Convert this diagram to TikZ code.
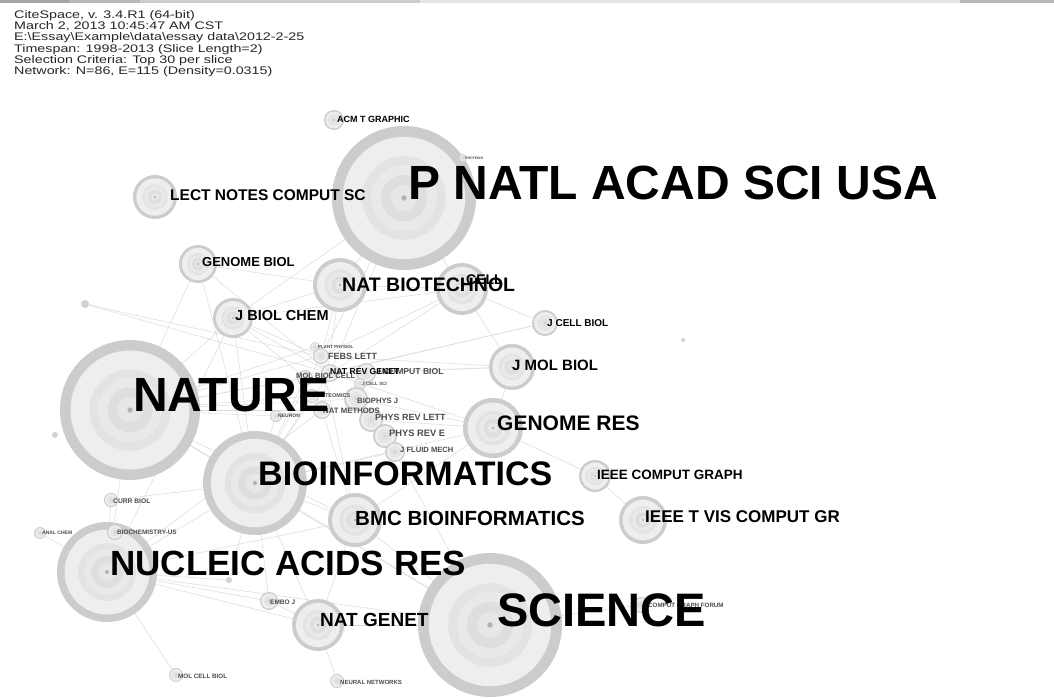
\documentclass[tikz,border=0pt]{standalone}
\usepackage{fontspec}
\setmainfont{Liberation Sans}
\pgfdeclarelayer{bg}
\pgfsetlayers{bg,main}

\begin{document}
\begin{tikzpicture}[
    x=1pt, y=-1pt,
    jrnl/.style={
        circle, inner sep=0pt,
        minimum size={2*#1pt},
        fill=gray!40,
        path picture={
            \fill[gray!13] (path picture bounding box.center) circle[radius={0.85*#1pt}];
            \fill[gray!22] (path picture bounding box.center) circle[radius={0.58*#1pt}];
            \fill[gray!17] (path picture bounding box.center) circle[radius={0.46*#1pt}];
            \fill[gray!26] (path picture bounding box.center) circle[radius={0.32*#1pt}];
            \fill[gray!19] (path picture bounding box.center) circle[radius={0.18*#1pt}];
            \fill[gray!60] (path picture bounding box.center) circle[radius={0.03*#1pt+0.5pt}];
        }
    },
    dot/.style={circle, inner sep=0pt, minimum size={2*#1pt}, fill=gray!35},
    lbl/.style={anchor=west, inner sep=0pt, font=\bfseries\fontsize{#1}{#1}\selectfont},
    tiny/.style={lbl=#1, text=black!70},
    link/.style={draw=gray!28, line width=0.5pt},
    head/.style={anchor=north west, inner sep=0pt, font=\fontsize{11}{10.5}\selectfont, text=black!85}
]

\useasboundingbox (0,0) rectangle (1054,697);

% big journals
\node[jrnl=72] (pnas) at (404,198) {};
\node[jrnl=70] (nat)  at (130,410) {};
\node[jrnl=72] (sci)  at (490,625) {};
\node[jrnl=52] (bio)  at (255,483) {};
\node[jrnl=50] (nar)  at (107,572) {};

% medium journals
\node[jrnl=22] (lncs)  at (155,197) {};
\node[jrnl=19] (gbiol) at (198,264) {};
\node[jrnl=27] (nbt)   at (340,285) {};
\node[jrnl=26] (cell)  at (462,289) {};
\node[jrnl=20] (jbc)   at (233,318) {};
\node[jrnl=13] (jcb)   at (545,323) {};
\node[jrnl=23] (jmb)   at (512,367) {};
\node[jrnl=30] (gres)  at (493,428) {};
\node[jrnl=16] (icg)   at (595,476) {};
\node[jrnl=24] (tvcg)  at (643,520) {};
\node[jrnl=27] (bmc)   at (355,520) {};
\node[jrnl=26] (ngen)  at (318,625) {};
\node[jrnl=10] (acm)   at (334,120) {};

% central cluster
\node[jrnl=5]  (plant) at (315,347) {};
\node[jrnl=8]  (febs)  at (321,356) {};
\node[jrnl=9]  (nrg)   at (330,373) {};
\node[jrnl=10] (jcomp) at (366,373) {};
\node[jrnl=8]  (mbc)   at (305,378) {};
\node[jrnl=6]  (jcs)   at (360,384) {};
\node[jrnl=7]  (prot)  at (312,396) {};
\node[jrnl=12] (bpj)   at (356,399) {};
\node[jrnl=9]  (nmeth) at (322,410) {};
\node[jrnl=6]  (neur)  at (276,416) {};
\node[jrnl=12] (prl)   at (371,420) {};
\node[jrnl=12] (pre)   at (385,436) {};
\node[jrnl=10] (jfm)   at (395,452) {};

% outer small ones
\node[jrnl=7] (cbiol) at (111,500) {};
\node[jrnl=6] (achem) at (40,533) {};
\node[jrnl=8] (bchem) at (115,532) {};
\node[jrnl=9] (embo)  at (269,601) {};
\node[jrnl=7] (mcb)   at (176,675) {};
\node[jrnl=7] (nnet)  at (337,681) {};
\node[jrnl=8] (cgf)   at (641,605) {};
\node[jrnl=4] (prots) at (463,158) {};

\node[dot=4]   (d1) at (85,304) {};
\node[dot=3]   (d2) at (55,435) {};
\node[dot=2]   (d3) at (683,340) {};
\node[dot=3]   (d4) at (229,580) {};

% links behind everything
\begin{pgfonlayer}{bg}
\fill[white] (0,0) rectangle (1054,697);
\fill[gray!70] (0,0) rectangle (70,3);
\fill[gray!55] (70,0) rectangle (140,3);
\fill[gray!40] (140,0) rectangle (420,3);
\fill[gray!22] (420,0) rectangle (960,3);
\fill[gray!55] (960,0) rectangle (1054,3);
\foreach \a/\b in {nat/bio, nat/nar, nat/jbc, nat/nmeth, nat/febs, nat/bmc, nat/sci,
        nat/gbiol, nat/nrg, nat/bpj, nat/prot, nat/neur, nat/mbc, nat/plant,
        bio/bmc, bio/nar, bio/ngen, bio/gres, bio/sci, bio/nrg, bio/febs, bio/mbc,
        bio/jbc, bio/embo, bio/jfm, bio/prot, bio/neur, bio/gbiol, bio/cbiol,
        nar/sci, nar/embo, nar/ngen, nar/bchem, nar/cbiol, nar/bmc, nar/jbc,
        nar/mcb, nar/achem, nar/d4, d4/bio, nar/nmeth,
        bmc/sci, bmc/ngen, bmc/gres, bmc/nmeth, bmc/febs,
        gres/jmb, gres/nrg, gres/prl, gres/bpj, gres/icg,
        jmb/cell, jmb/nrg, jmb/jcomp, jmb/febs,
        jcb/nrg, jcb/mbc, jcb/cell,
        cell/nbt, cell/febs, cell/jbc, cell/nrg,
        nbt/febs, nbt/nmeth, nbt/pnas, nbt/gbiol, nbt/jbc,
        pnas/febs, pnas/jbc, pnas/nrg, pnas/cell,
        jbc/febs, jbc/mbc, jbc/nrg, gbiol/nrg, d1/nrg, d1/febs,
        prl/pre, pre/jfm, jfm/sci, icg/tvcg,
        ngen/sci, ngen/embo, cgf/sci, nnet/ngen}
    \draw[link] (\a.center) -- (\b.center);
\end{pgfonlayer}

% header
\node[head] (info) at (14,10.5) {\scalebox{1.3}[1]{\begin{tabular}{@{}l@{}}
CiteSpace, v. 3.4.R1 (64-bit)\\
March 2, 2013 10:45:47 AM CST\\
E:\textbackslash Essay\textbackslash Example\textbackslash data\textbackslash essay data\textbackslash 2012-2-25\\
Timespan: 1998-2013 (Slice Length=2)\\
Selection Criteria: Top 30 per slice\\
Network: N=86, E=115 (Density=0.0315)
\end{tabular}}};

% small labels
\node[tiny=4.4] (plantT) at (318,347) {PLANT PHYSIOL};
\node[tiny=9]   (febsT)  at (328,356) {FEBS LETT};
\node[tiny=7.6] (mbcT)   at (296,376) {MOL BIOL CELL};
\node[tiny=8.6] (jcompT) at (376,372) {J COMPUT BIOL};
\node[lbl=8.6]  (nrgT)   at (330,372) {NAT REV GENET};
\node[tiny=4.6] (jcsT)   at (362,384) {J CELL SCI};
\node[tiny=5.5] (protT)  at (313,396) {PROTEOMICS};
\node[tiny=7.7] (bpjT)   at (357,401) {BIOPHYS J};
\node[tiny=7.8] (nmethT) at (323,411) {NAT METHODS};
\node[tiny=5]   (neurT)  at (278,416) {NEURON};
\node[tiny=9]   (prlT)   at (375,417) {PHYS REV LETT};
\node[tiny=9.3] (preT)   at (389,433) {PHYS REV E};
\node[tiny=7.6] (jfmT)   at (400,450) {J FLUID MECH};
\node[tiny=6.7] (cbiolT) at (113,501) {CURR BIOL};
\node[tiny=5]   (achemT) at (42,533)  {ANAL CHEM};
\node[tiny=6.4] (bchemT) at (117,532) {BIOCHEMISTRY-US};
\node[tiny=6.5] (emboT)  at (270,602) {EMBO J};
\node[tiny=6.3] (mcbT)   at (178,676) {MOL CELL BIOL};
\node[tiny=6]   (nnetT)  at (340,682) {NEURAL NETWORKS};
\node[tiny=6.2] (cgfT)   at (648,605) {COMPUT GRAPH FORUM};
\node[tiny=3.5] (protsT) at (465,158) {PROTEINS};

% medium labels
\node[lbl=9]    (acmT)   at (337,119) {ACM T GRAPHIC};
\node[lbl=15.5] (lncsT)  at (170,195) {LECT NOTES COMPUT SC};
\node[lbl=13]   (gbiolT) at (202,262) {GENOME BIOL};
\node[lbl=14.5] (jbcT)   at (235,315) {J BIOL CHEM};
\node[lbl=19.5] (nbtT)   at (342,285) {NAT BIOTECHNOL};
\node[lbl=14]   (cellT)  at (466,280) {CELL};
\node[lbl=10]   (jcbT)   at (547,323) {J CELL BIOL};
\node[lbl=15]   (jmbT)   at (512,365) {J MOL BIOL};
\node[lbl=21]   (gresT)  at (497,423) {GENOME RES};
\node[lbl=13.5] (icgT)   at (597,475) {IEEE COMPUT GRAPH};
\node[lbl=17]   (tvcgT)  at (645,517) {IEEE T VIS COMPUT GR};
\node[lbl=20.5] (bmcT)   at (355,518) {BMC BIOINFORMATICS};
\node[lbl=19]   (ngenT)  at (320,620) {NAT GENET};

% big labels
\node[lbl=48] (pnasT) at (408,183) {P NATL ACAD SCI USA};
\node[lbl=48] (natT)  at (133,395) {NATURE};
\node[lbl=34] (bioT)  at (258,474) {BIOINFORMATICS};
\node[lbl=35] (narT)  at (110,563) {NUCLEIC ACIDS RES};
\node[lbl=47] (sciT)  at (497,610) {SCIENCE};

\end{tikzpicture}
\end{document}
